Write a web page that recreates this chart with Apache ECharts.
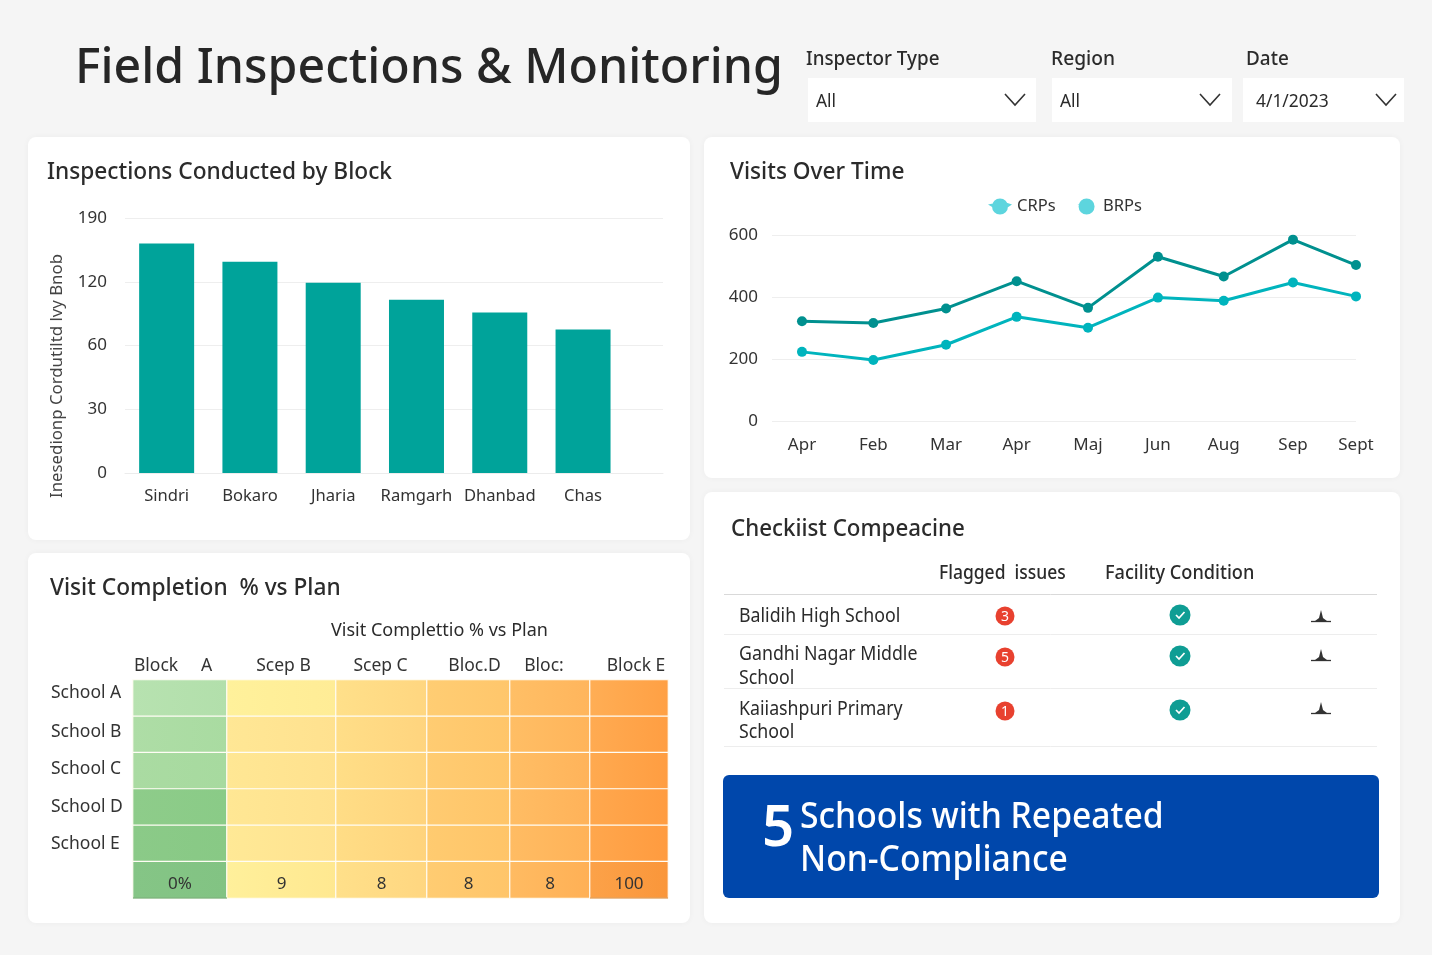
<!DOCTYPE html>
<html><head><meta charset="utf-8">
<style>html,body{margin:0;padding:0;background:#f5f5f5}#c{width:1432px;height:955px}</style>
<script src="https://cdn.jsdelivr.net/npm/echarts@6/dist/echarts.min.js"></script>
</head><body><div id="c"></div>
<script>
// ---------- data ----------
const blocks = ['Sindri','Bokaro','Jharia','Ramgarh','Dhanbad','Chas'];
const inspections = [162,142,119,103,91,75];
const inspectionTicks = [0,30,60,120,190];

const months = ['Apr','Feb','Mar','Apr','Maj','Jun','Aug','Sep','Sept'];
const monthAxisValues = [0,1.03,2.08,3.1,4.13,5.14,6.09,7.09,8];
const crps = [322,316,363,451,365,530,466,585,503];
const brps = [223,197,246,336,301,398,388,447,402];

const heatColumns = ['Block     A','Scep B','Scep C','Bloc.D','Bloc:','Block E'];
const heatRows = ['School A','School B','School C','School D','School E',''];
const heatTotals = ['0%','9','8','8','8','100'];

const checklist = ['Balidih High School','Gandhi Nagar Middle|School','Kaiiashpuri Primary|School'];
const flagged = [3,5,1];

// ---------- style ----------
const FF = '"Noto Sans","Open Sans",sans-serif';
const INK = '#2b2b2b';
const heatLeft = [
  ['#b7e2b0','#fff19b','#ffe08a','#ffcd73','#ffbf66','#ffae55'],
  ['#aedda6','#ffe795','#ffde88','#ffcc72','#ffbe65','#ffab52'],
  ['#aadba2','#ffe794','#ffde87','#ffcc72','#ffbe65','#ffaa50'],
  ['#8ecc8a','#ffe794','#ffdd86','#ffcb71','#ffbd64','#ffa84e'],
  ['#8bca88','#ffe996','#ffdd86','#ffcb70','#ffbc63','#ffa74d'],
  ['#85c586','#fff09b','#ffe08a','#ffcc72','#ffbb62','#fca249']];
const heatRight = [
  ['#b2dfab','#ffec96','#ffd680','#ffc66b','#ffb55c','#ffa044'],
  ['#a9dba1','#ffe18f','#ffd47e','#ffc569','#ffb45a','#ff9e42'],
  ['#a7da9f','#ffe18e','#ffd47d','#ffc569','#ffb35a','#ff9d41'],
  ['#8acb87','#ffe18e','#ffd37c','#ffc468','#ffb259','#ff9c40'],
  ['#88c985','#ffe290','#ffd37c','#ffc468','#ffb258','#ff9b3f'],
  ['#82c383','#ffe890','#ffd680','#ffc569','#ffb055','#fa963a']];
const columnEdges = [133,227,336,427,510,590,668];
const headerShift = [-7,2,-1,6,-6,7];
const rowLabelY = [692,731,768,806,843];

// y axis of the first chart has unevenly spaced ticks drawn evenly
const tickPos = v => {
  for (let i = 0; i < inspectionTicks.length - 1; i++) {
    const a = inspectionTicks[i], b = inspectionTicks[i + 1];
    if (v <= b) return i + (v - a) / (b - a);
  }
  return inspectionTicks.length - 1;
};

// ---------- static layer ----------
const g = [];
const card = (x, y, w, h) => g.push({type:'rect', shape:{x, y, width:w, height:h, r:8}, style:{fill:'#fff', shadowBlur:6, shadowColor:'rgba(0,0,0,0.04)'}});
const txt = (x, y, text, size, o = {}) => g.push({type:'text', x, y:o.rot ? y : y + 4, rotation:o.rot || 0, scaleX:o.sx || 1, style:{text, fill:o.color || INK, font:`${o.weight || 400} ${size}px ${FF}`, textAlign:o.align || 'left', textVerticalAlign:'middle'}});
const hline = (x1, x2, y, color) => g.push({type:'line', shape:{x1, y1:y, x2, y2:y}, style:{stroke:color, lineWidth:1}});

card(28,137,662,403); card(28,553,662,370); card(704,137,696,341); card(704,492,696,431);

txt(75,65,'Field Inspections & Monitoring',49.5,{weight:500,color:'#262626',sx:0.975});

[[806,'Inspector Type',808,228,'All',1015,0.965],[1051,'Region',1052,180,'All',1210,0.985],[1246,'Date',1243,161,'4/1/2023',1386,0.97]].forEach(s => {
  txt(s[0],55,s[1],19.5,{weight:500,sx:s[6]});
  g.push({type:'rect', shape:{x:s[2], y:78, width:s[3], height:44}, style:{fill:'#fff'}});
  txt(s[2] + (s[4] === 'All' ? 8 : 13),98,s[4],18.5,{sx:0.94});
  g.push({type:'polyline', shape:{points:[[s[5]-10,94],[s[5],105],[s[5]+10,94]]}, style:{stroke:'#333', lineWidth:1.6, fill:null}});
});

const TS = 0.945;
txt(47,168,'Inspections Conducted by Block',24,{weight:500,sx:TS});
txt(730,168,'Visits Over Time',24,{weight:500,sx:TS});
txt(50,584,'Visit Completion  % vs Plan',24,{weight:500,sx:TS});
txt(731,525,'Checkiist Compeacine',24,{weight:500,sx:0.93});
txt(331,627,'Visit Complettio % vs Plan',18);
txt(57,376,'Inesedionp Cordutiltd lvy Bnob',16.8,{rot:Math.PI/2,align:'center',color:'#444'});
heatRows.filter(Boolean).forEach((r,i) => txt(51,rowLabelY[i]-3,r,17.5,{color:'#333'}));

// checklist table
txt(939,570,'Flagged  issues',19,{weight:500,sx:0.92});
txt(1105,570,'Facility Condition',19,{weight:500,sx:0.955});
hline(724,1377,594.5,'#d9d9d9');
const rowY = [[613],[651,675],[706,729]];
const badgeY = [616,657,711], checkY = [615,656,710], spikeY = [622,661,714], ruleY = [634.5,688.5,746.5];
checklist.forEach((name, i) => {
  name.split('|').forEach((line, j) => txt(739,rowY[i][j],line,19,{sx:0.935}));
  hline(724,1377,ruleY[i],'#ededed');
  g.push({type:'circle', shape:{cx:1005, cy:badgeY[i], r:9.5}, style:{fill:'#e8412f'}});
  txt(1005,badgeY[i]-3,String(flagged[i]),14,{color:'#fff',align:'center'});
  g.push({type:'circle', shape:{cx:1180, cy:checkY[i], r:10.5}, style:{fill:'#0f9d94'}});
  g.push({type:'polyline', shape:{points:[[1176,checkY[i]],[1179,checkY[i]+3],[1184.5,checkY[i]-3]]}, style:{stroke:'#fff', lineWidth:1.7, fill:null}});
  const y = spikeY[i];
  g.push({type:'polygon', shape:{points:[[1315,y-1],[1319,y-4],[1321,y-12],[1323,y-4],[1327,y-1]]}, style:{fill:'#333'}});
  g.push({type:'line', shape:{x1:1311, y1:y-0.5, x2:1331, y2:y-0.5}, style:{stroke:'#333', lineWidth:1.3}});
});

// banner
g.push({type:'rect', shape:{x:723, y:775, width:656, height:123, r:6}, style:{fill:'#0047ab'}});
txt(762,825,'5',58,{color:'#fff',weight:600,sx:0.97});
txt(800,813,'Schools with Repeated',37,{color:'#fff',weight:500,sx:0.91});
txt(800,856,'Non-Compliance',37,{color:'#fff',weight:500,sx:0.91});

// darker rim under the two end columns of the heat map
[[0,'#5f9f61'],[5,'#d98a3a']].forEach(([c,color]) => g.push({type:'line', z:10,
  shape:{x1:columnEdges[c], y1:898, x2:columnEdges[c+1], y2:898}, style:{stroke:color, lineWidth:1.2}}));

// ---------- axes & series ----------
const grids = [
  {left:125, top:218, width:538, height:255, outerBoundsMode:'none'},
  {left:772, top:235, width:584, height:186, outerBoundsMode:'none'}
];
const xAxes = [
  {gridIndex:0, type:'value', min:-0.5, max:5.96, interval:0.5,
   axisLine:{lineStyle:{color:'#ececec'}}, axisTick:{show:false}, splitLine:{show:false},
   axisLabel:{show:true, hideOverlap:false, showMinLabel:false, showMaxLabel:false, margin:15, fontSize:16.6, fontFamily:FF, color:'#333',
     formatter:v => Number.isInteger(v) && blocks[v] ? blocks[v] : ''}},
  {gridIndex:1, type:'value', min:-0.433, max:8,
   axisLine:{show:false}, axisTick:{show:false}, splitLine:{show:false},
   axisLabel:{customValues:monthAxisValues, margin:16, fontSize:17, fontFamily:FF, color:'#333', hideOverlap:false,
     formatter:v => months[monthAxisValues.indexOf(v)]}}
];
const yAxes = [
  {gridIndex:0, type:'value', min:0, max:inspectionTicks.length-1, interval:1,
   axisLine:{show:false}, axisTick:{show:false},
   splitLine:{lineStyle:{color:'#eeeeee'}},
   axisLabel:{margin:18, fontSize:17, fontFamily:FF, color:'#333', formatter:v => String(inspectionTicks[v])}},
  {gridIndex:1, type:'value', min:0, max:600, interval:200,
   axisLine:{show:false}, axisTick:{show:false},
   splitLine:{lineStyle:{color:'#eeeeee'}},
   axisLabel:{margin:14, fontSize:17, fontFamily:FF, color:'#333'}}
];
const series = [
  {type:'bar', xAxisIndex:0, yAxisIndex:0, barWidth:55, silent:true,
   itemStyle:{color:'#00a39a'},
   data:inspections.map((v,i) => [i, tickPos(v)])},
  {name:'CRPs', type:'line', xAxisIndex:1, yAxisIndex:1, symbol:'circle', symbolSize:10,
   lineStyle:{color:'#00908f', width:3}, itemStyle:{color:'#00908f'},
   data:crps.map((v,i) => [monthAxisValues[i],v])},
  {name:'BRPs', type:'line', xAxisIndex:1, yAxisIndex:1, symbol:'circle', symbolSize:10,
   lineStyle:{color:'#00b4bd', width:3}, itemStyle:{color:'#00b4bd'},
   data:brps.map((v,i) => [monthAxisValues[i],v])}
];
// one grid per heat-map column so the columns keep their differing widths
heatColumns.forEach((col, c) => {
  const gi = grids.length;
  grids.push({left:columnEdges[c], top:680, width:columnEdges[c+1]-columnEdges[c], height:218, outerBoundsMode:'none'});
  xAxes.push({gridIndex:gi, type:'category', position:'top', data:[col],
    axisLine:{show:false}, axisTick:{show:false},
    axisLabel:{interval:0, margin:5, fontSize:17.5, fontFamily:FF, color:'#333', align:'center',
      padding: headerShift[c] > 0 ? [0,0,0,2*headerShift[c]] : [0,-2*headerShift[c],0,0]}});
  yAxes.push({gridIndex:gi, type:'category', inverse:true, data:heatRows,
    axisLine:{show:false}, axisTick:{show:false}, axisLabel:{show:false}});
  series.push({type:'heatmap', xAxisIndex:gi, yAxisIndex:gi, silent:true,
    label:{show:true, fontSize:17, fontFamily:FF, color:'#333', offset:[0,4],
      formatter:p => p.data.tag},
    data:heatRows.map((_, r) => ({
      value:[0, r, 1],
      tag: r === heatRows.length-1 ? heatTotals[c] : '',
      itemStyle:{borderColor:'#fffdf5', borderWidth:1.2,
        color:{type:'linear', x:0, y:0, x2:1, y2:0, colorStops:[
          {offset:0, color:heatLeft[r][c]},{offset:1, color:heatRight[r][c]}]}}
    }))});
});

const chart = echarts.init(document.getElementById('c'), null, {renderer:'canvas', width:1432, height:955});
chart.setOption({
  backgroundColor:'#f5f5f5',
  animation:false,
  textStyle:{fontFamily:FF},
  graphic:{elements:g},
  legend:{left:983, top:193, itemWidth:24, itemHeight:16, itemGap:22,
    textStyle:{fontSize:16.5, fontFamily:FF, color:'#333'},
    data:[
      {name:'CRPs', itemStyle:{color:'#5dd5de'},
       icon:'path://M0 6 L10 4 L10 12 Z M4 8 A8 8 0 1 1 20 8 A8 8 0 1 1 4 8 Z M18 4 L24 6 L18 10 Z'},
      {name:'BRPs', itemStyle:{color:'#5dd5de'},
       icon:'path://M0 6 L8 5 L8 11 Z M1 8 A8 8 0 1 1 17 8 A8 8 0 1 1 1 8 Z'}]},
  grid:grids, xAxis:xAxes, yAxis:yAxes, series
});
</script></body></html>
